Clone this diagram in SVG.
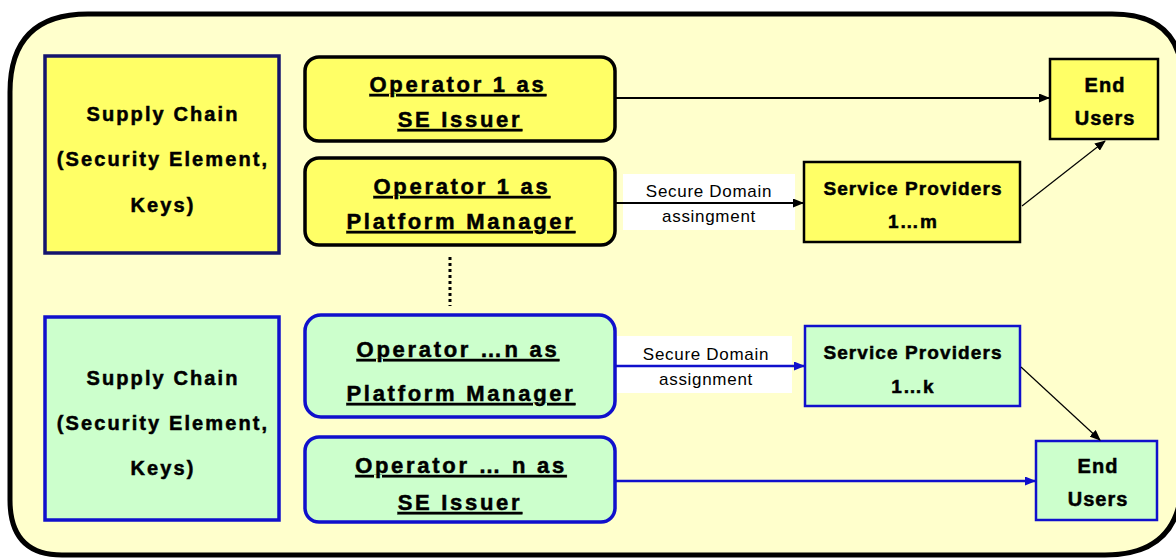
<svg xmlns="http://www.w3.org/2000/svg" width="1176" height="559" viewBox="0 0 1176 559">
  <defs>
    <marker id="ahBlack" markerWidth="11" markerHeight="9" refX="10" refY="4.5" orient="auto" markerUnits="userSpaceOnUse">
      <path d="M0,0 L11,4.5 L0,9 Z" fill="#000"/>
    </marker>
    <marker id="ahBlue" markerWidth="11" markerHeight="9" refX="10" refY="4.5" orient="auto" markerUnits="userSpaceOnUse">
      <path d="M0,0 L11,4.5 L0,9 Z" fill="#1010cc"/>
    </marker>
    <style>
      .frame { fill: #ffffcc; stroke: #000; stroke-width: 5; }
      .yel { fill: #ffff66; }
      .grn { fill: #ccffcc; }
      .blk { stroke: #000; stroke-width: 3.5; }
      .nav { stroke: #14146e; stroke-width: 3.5; }
      .blu { stroke: #1010cc; stroke-width: 3.5; }
      .thin { stroke-width: 2.5; }
      .t { font-family: "Liberation Sans", Arial, sans-serif; font-weight: bold; fill: #000; stroke: #000; stroke-width: 0.5; text-anchor: middle; }
      .sc { font-size: 20px; letter-spacing: 2.1px; }
      .op { font-size: 22px; letter-spacing: 2.7px; text-decoration: underline; }
      .eu { font-size: 20px; letter-spacing: 1px; }
      .sp { font-size: 19px; letter-spacing: 1.1px; }
      .lbl { font-family: "Liberation Sans", Arial, sans-serif; font-size: 17px; letter-spacing: 0.7px; fill: #000; text-anchor: middle; }
      .lblbg { fill: #ffffff; }
      .cb { stroke: #000; stroke-width: 2; fill: none; }
      .cbt { stroke: #000; stroke-width: 1.2; fill: none; }
      .cu { stroke: #1010cc; stroke-width: 2.5; fill: none; }
    </style>
  </defs>

  <!-- outer frame; its right side runs past the canvas edge -->
  <path class="frame" d="M88,14 L1112,14 Q1182,14 1182,80 L1182,478 Q1182,555 1105,555 L62,555 Q10,555 10,500 L10,92 Q10,14 88,14 Z"/>

  <!-- supply chain, first operator -->
  <g id="supply-chain-1">
    <rect class="yel nav" x="45" y="56" width="234" height="197"/>
    <text class="t sc" x="163" y="121">Supply Chain</text>
    <text class="t sc" x="163" y="166">(Security Element,</text>
    <text class="t sc" x="163" y="212">Keys)</text>
  </g>

  <!-- supply chain, operator n -->
  <g id="supply-chain-n">
    <rect class="grn blu" x="45" y="317" width="234" height="203"/>
    <text class="t sc" x="163" y="385">Supply Chain</text>
    <text class="t sc" x="163" y="430">(Security Element,</text>
    <text class="t sc" x="163" y="475">Keys)</text>
  </g>

  <g id="op1-se-issuer">
    <rect class="yel blk" x="305" y="57" width="310" height="84" rx="14" ry="14"/>
    <text class="t op" x="458" y="92">Operator 1 as</text>
    <text class="t op" x="460" y="127">SE Issuer</text>
  </g>

  <g id="op1-platform-manager">
    <rect class="yel blk" x="305" y="158" width="310" height="87" rx="14" ry="14"/>
    <text class="t op" x="462" y="194">Operator 1 as</text>
    <text class="t op" x="461" y="229">Platform Manager</text>
  </g>

  <g id="opn-platform-manager">
    <rect class="grn blu" x="305" y="315" width="310" height="102" rx="16" ry="16"/>
    <text class="t op" x="458" y="357">Operator …n as</text>
    <text class="t op" x="461" y="401">Platform Manager</text>
  </g>

  <g id="opn-se-issuer">
    <rect class="grn blu" x="305" y="437" width="310" height="85" rx="14" ry="14"/>
    <text class="t op" x="461" y="473">Operator … n as</text>
    <text class="t op" x="460" y="510">SE Issuer</text>
  </g>

  <g id="end-users-1">
    <rect class="yel blk thin" x="1050" y="59" width="108" height="80"/>
    <text class="t eu" x="1105" y="92">End</text>
    <text class="t eu" x="1105" y="125">Users</text>
  </g>

  <g id="service-providers-m">
    <rect class="yel blk thin" x="804" y="162" width="216" height="80"/>
    <text class="t sp" x="913" y="195">Service Providers</text>
    <text class="t sp" x="913" y="228">1…m</text>
  </g>

  <g id="service-providers-k">
    <rect class="grn blu thin" x="805" y="326" width="215" height="80"/>
    <text class="t sp" x="913" y="359">Service Providers</text>
    <text class="t sp" x="913" y="393">1…k</text>
  </g>

  <g id="end-users-n">
    <rect class="grn blu thin" x="1036" y="441" width="121" height="79"/>
    <text class="t eu" x="1098" y="473">End</text>
    <text class="t eu" x="1098" y="506">Users</text>
  </g>

  <!-- connectors -->
  <g id="connectors">
    <path class="cb" d="M615,98 L1049,98" marker-end="url(#ahBlack)"/>

    <rect class="lblbg" x="623" y="174" width="172" height="56"/>
    <path class="cb" d="M615,203 L803,203" marker-end="url(#ahBlack)"/>
    <text class="lbl" x="709" y="197">Secure Domain</text>
    <text class="lbl" x="709" y="222">assingment</text>

    <path class="cbt" d="M1022,206 L1105,141" marker-end="url(#ahBlack)"/>

    <rect class="lblbg" x="617" y="336" width="175" height="57"/>
    <path class="cu" d="M615,366 L804,366" marker-end="url(#ahBlue)"/>
    <text class="lbl" x="706" y="360">Secure Domain</text>
    <text class="lbl" x="706" y="385">assignment</text>

    <path class="cbt" d="M1021,367 L1100,440" marker-end="url(#ahBlack)"/>

    <path class="cu" d="M615,481 L1035,481" marker-end="url(#ahBlue)"/>

    <path d="M450,257 L450,306" stroke="#000" stroke-width="3" stroke-dasharray="3,3" fill="none"/>
  </g>
</svg>
